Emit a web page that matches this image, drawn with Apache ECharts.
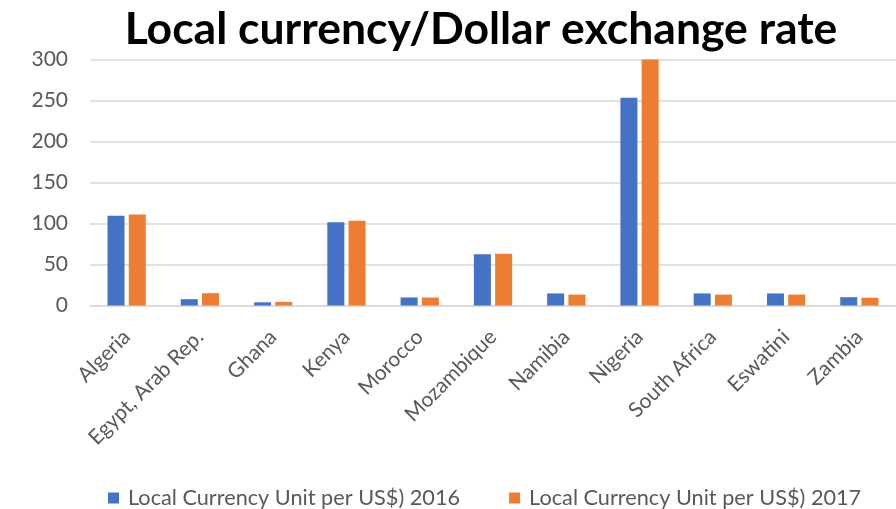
<!DOCTYPE html>
<html><head><meta charset="utf-8">
<script src="https://cdn.jsdelivr.net/npm/echarts@6/dist/echarts.min.js"></script>
<style>html,body{margin:0;padding:0;background:#fff}#c{width:896px;height:509px}</style>
</head><body><div id="c"></div>
<script>
const categories = ["Algeria","Egypt, Arab Rep.","Ghana","Kenya","Morocco","Mozambique","Namibia","Nigeria","South Africa","Eswatini","Zambia"];
const values2016 = [109.4, 7.7, 3.9, 101.5, 9.8, 62.4, 14.7, 253.5, 14.7, 14.7, 10.1];
const values2017 = [111.0, 15.0, 4.4, 103.4, 9.7, 63.2, 13.3, 305.8, 13.3, 13.3, 9.5];
const seriesNames = ["Local Currency Unit per US$) 2016", "Local Currency Unit per US$) 2017"];
const yTicks = [0, 50, 100, 150, 200, 250, 300];
const chart = echarts.init(document.getElementById('c'));
const font = 'Lato, "Open Sans", sans-serif';
chart.setOption({
  animation: false,
  textStyle: {fontFamily: font},
  title: {text: 'Local currency/Dollar exchange rate', left: 476, textAlign: 'center', top: 2,
    textStyle: {fontSize: 44.5, fontWeight: 'bold', color: '#000', fontFamily: font}},
  legend: {top: 482, left: 103, itemWidth: 11, itemHeight: 11, itemGap: 49, icon: 'rect',
    textStyle: {fontSize: 21.7, color: '#595959', fontFamily: font, padding: [0, 0, 0, 4]}, data: seriesNames},
  grid: {left: 90, top: 59.5, width: 825, bottom: 203.5, containLabel: false},
  xAxis: {type: 'category', data: categories,
    axisLine: {lineStyle: {color: '#d9d9d9', width: 1.5}}, axisTick: {show: false},
    axisLabel: {rotate: 45, interval: 0, fontSize: 21, color: '#595959', margin: 28, fontFamily: font}},
  yAxis: {type: 'value', min: yTicks[0], max: yTicks[yTicks.length-1], interval: 50,
    axisLine: {show: false}, axisTick: {show: false},
    axisLabel: {fontSize: 21, color: '#595959', margin: 22, fontFamily: font},
    splitLine: {lineStyle: {color: '#d9d9d9', width: 1.5}}},
  series: [
    {name: seriesNames[0], type: 'bar', data: values2016, barWidth: 17, barGap: '25%', itemStyle: {color: '#4472C4'}},
    {name: seriesNames[1], type: 'bar', data: values2017, barWidth: 17, barGap: '25%', itemStyle: {color: '#ED7D31'}}
  ]
});
</script></body></html>
